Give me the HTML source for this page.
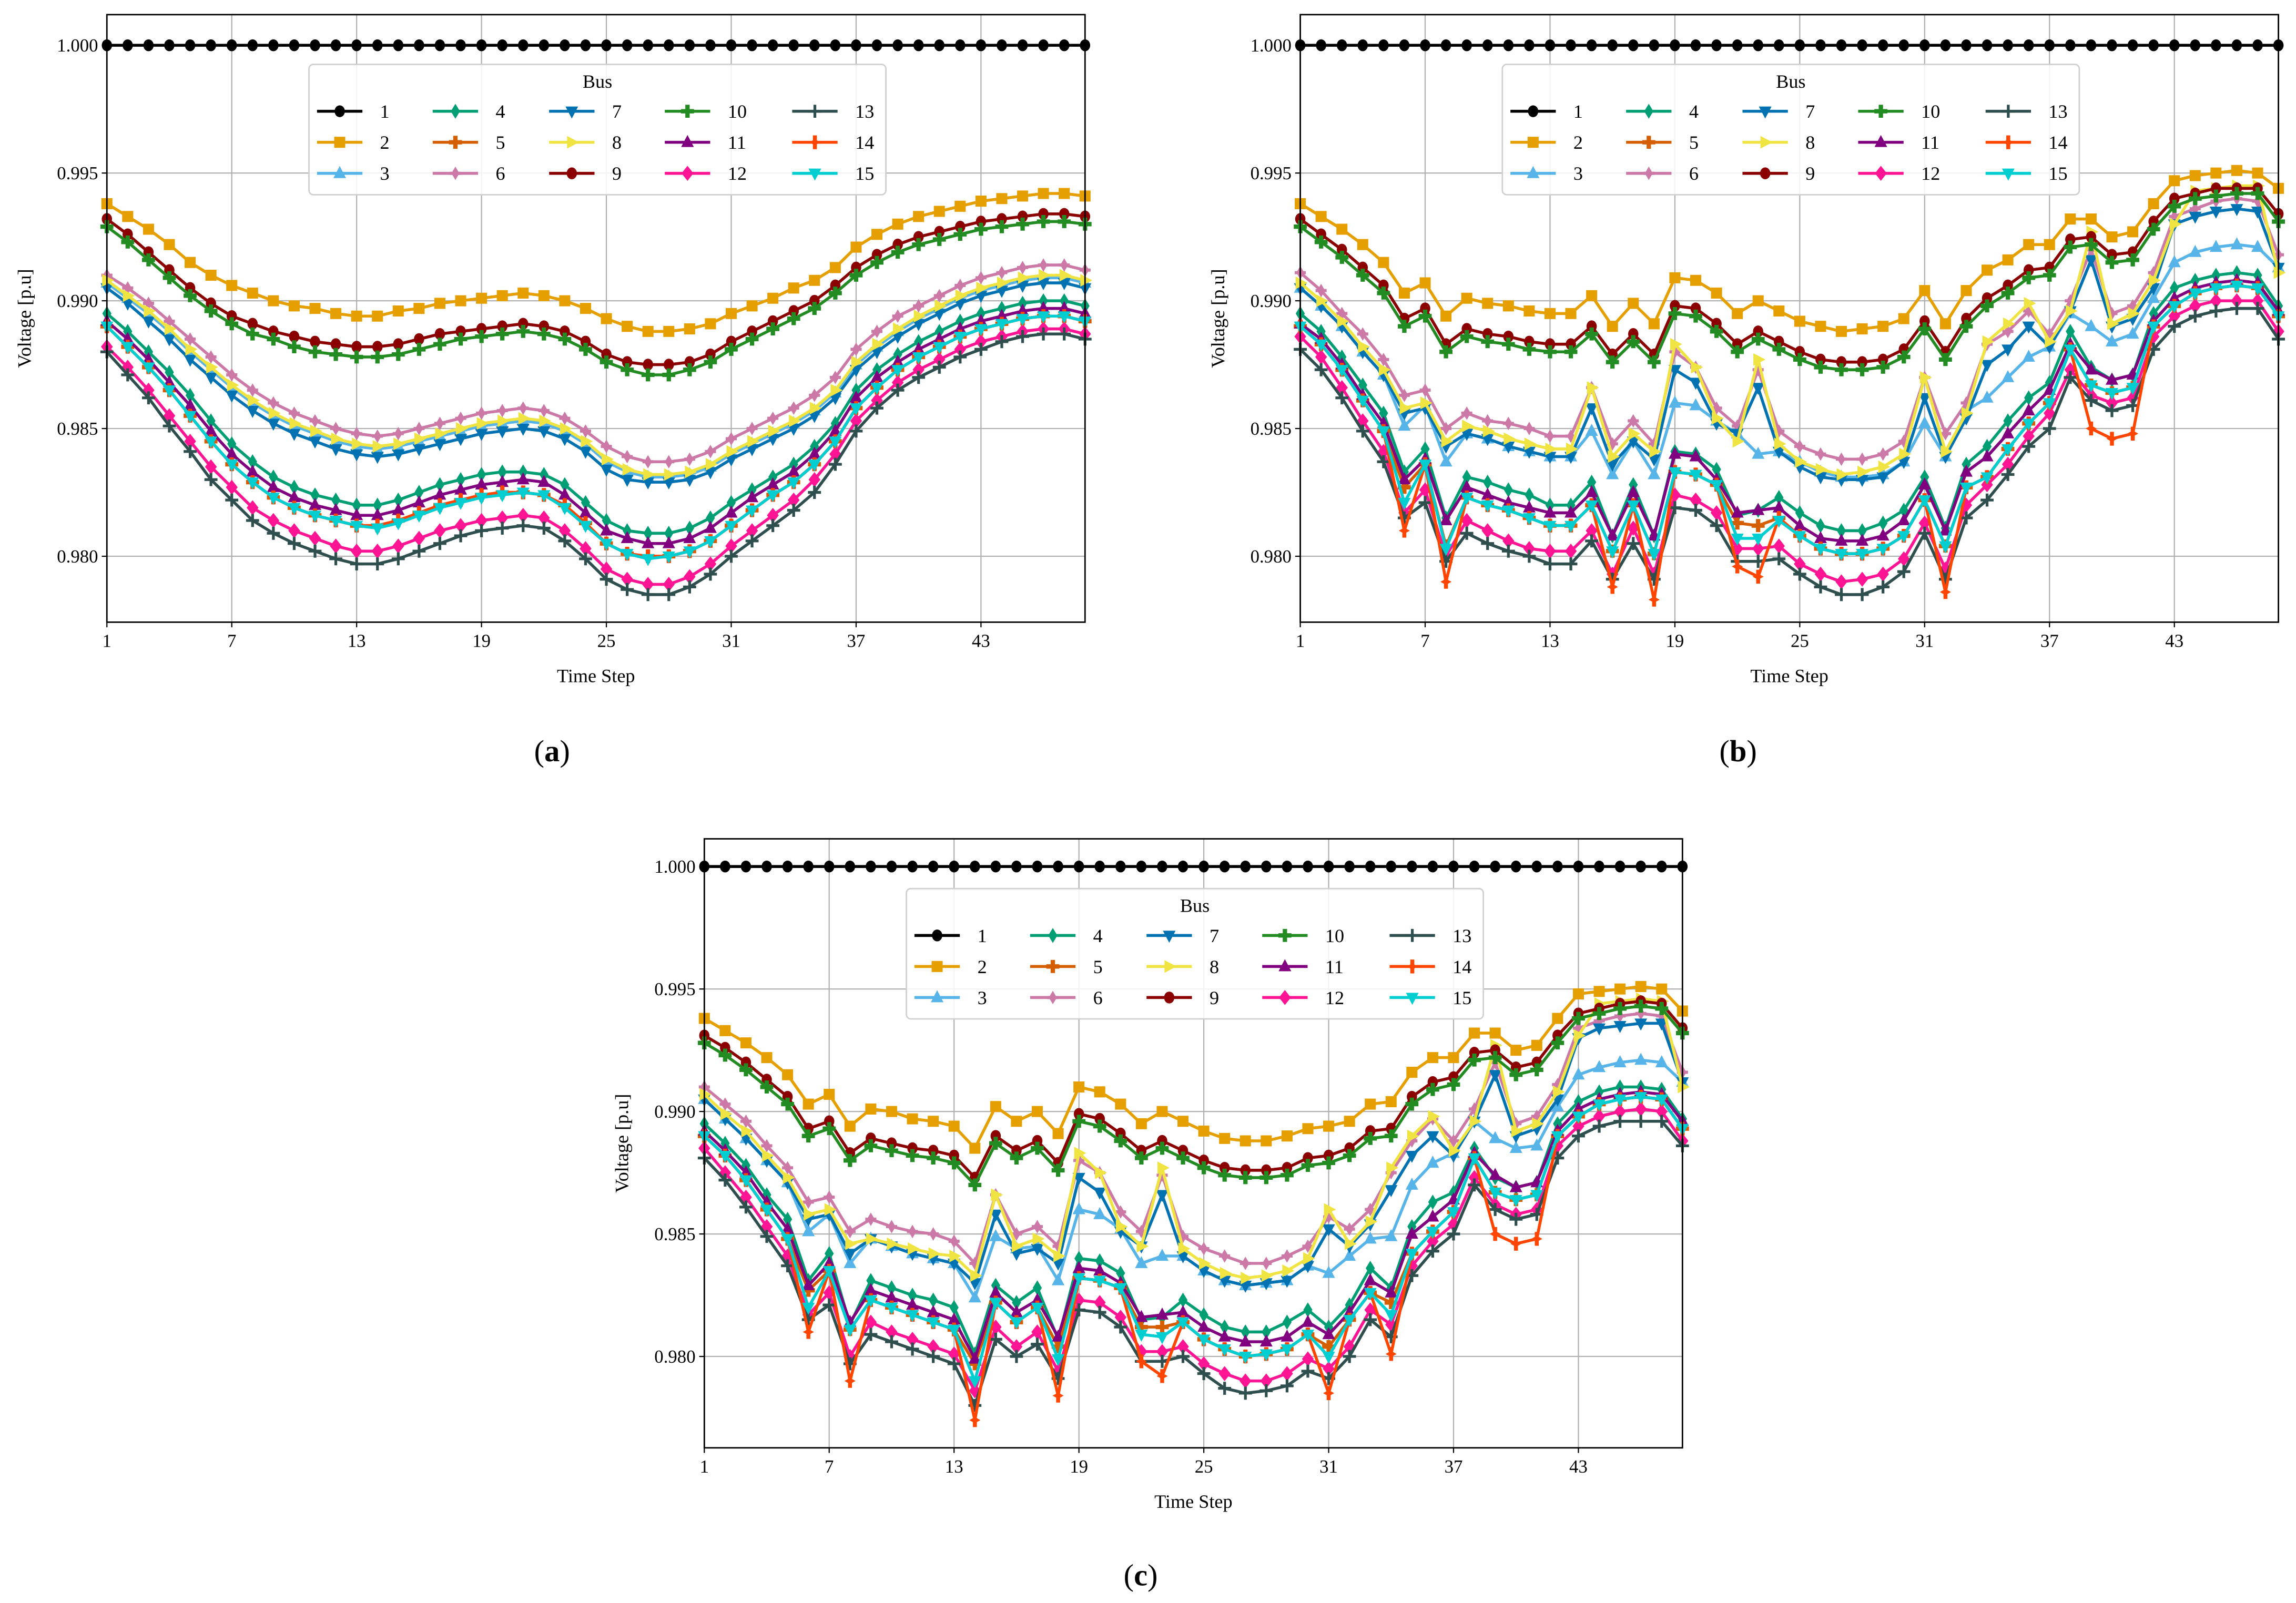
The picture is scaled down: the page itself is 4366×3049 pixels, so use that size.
<!DOCTYPE html>
<html><head><meta charset="utf-8"><style>
html,body{margin:0;padding:0;background:#fff;}
svg{display:block;}
text{font-family:"Liberation Serif",serif;fill:#000;}
</style></head><body>
<svg id="root" xmlns="http://www.w3.org/2000/svg" width="4366" height="3049" viewBox="0 0 1568 1095" preserveAspectRatio="none"></svg>
<script>
// Values: voltage deficit below 1.0 p.u. in units of 1e-4 (v = 1 - d/10000), time steps 1..48
const timeSteps=[1,2,3,4,5,6,7,8,9,10,11,12,13,14,15,16,17,18,19,20,21,22,23,24,25,26,27,28,29,30,31,32,33,34,35,36,37,38,39,40,41,42,43,44,45,46,47,48];
const busLabels=["1","2","3","4","5","6","7","8","9","10","11","12","13","14","15"];
const xTickLabels=[1,7,13,19,25,31,37,43];
const yTickLabels=[0.980,0.985,0.990,0.995,1.000];
const zeroBus=[0,0,0,0,0,0,0,0,0,0,0,0,0,0,0,0,0,0,0,0,0,0,0,0,0,0,0,0,0,0,0,0,0,0,0,0,0,0,0,0,0,0,0,0,0,0,0,0];
// panel (a)
const a2=[62,67,72,78,85,90,94,97,100,102,103,105,106,106,104,103,101,100,99,98,97,98,100,103,107,110,112,112,111,109,105,102,99,95,92,87,79,74,70,67,65,63,61,60,59,58,58,59];
const a3=[93,99,105,112,120,127,134,140,145,149,152,155,157,158,157,155,153,151,149,148,147,148,151,156,163,167,169,169,168,165,160,156,152,148,143,136,125,118,112,107,103,99,96,94,92,91,91,93];
const a4=[105,112,120,128,137,147,156,163,169,173,176,178,180,180,178,175,172,170,168,167,167,168,172,179,186,190,191,191,189,185,179,174,169,164,157,148,135,127,121,116,112,108,105,103,101,100,100,102];
const a5=[110,118,126,135,145,155,164,171,177,181,184,186,188,188,186,183,180,178,176,175,175,176,180,187,195,199,200,200,198,194,188,182,176,171,164,155,142,134,127,122,118,114,111,109,107,106,106,108];
const a6=[90,95,101,108,115,122,129,135,140,144,147,150,152,153,152,150,148,146,144,143,142,143,146,151,157,161,163,163,162,159,154,150,146,142,137,130,119,112,106,102,98,94,91,89,87,86,86,88];
const a7=[95,101,108,115,123,130,137,143,148,152,155,158,160,161,160,158,156,154,152,151,150,151,154,159,166,170,171,171,170,167,162,158,154,150,145,138,127,120,114,109,105,101,98,96,94,93,93,95];
const a8=[92,98,104,111,119,126,133,139,144,148,151,154,156,157,156,154,152,150,148,147,146,147,150,155,162,166,168,168,167,164,159,155,151,147,142,135,124,117,111,106,102,98,95,93,91,90,90,92];
const a9=[68,74,81,88,95,101,106,109,112,114,116,117,118,118,117,115,113,112,111,110,109,110,112,116,121,124,125,125,124,121,116,112,108,104,100,94,87,82,78,75,73,71,69,68,67,66,66,67];
const a10=[71,77,84,91,98,104,109,113,115,118,120,121,122,122,121,119,117,115,114,113,112,113,115,119,124,127,129,129,127,124,119,115,111,107,103,97,90,85,81,78,76,74,72,71,70,69,69,70];
const a11=[108,115,123,132,141,151,160,167,173,177,180,182,184,184,182,179,176,174,172,171,170,171,176,183,190,193,195,195,193,189,183,177,172,167,160,151,138,130,124,119,115,111,108,106,104,103,103,105];
const a12=[118,126,135,145,155,165,173,181,186,190,193,196,198,198,196,193,190,188,186,185,184,185,190,197,205,209,211,211,208,203,196,190,184,178,170,160,147,139,132,127,123,119,116,114,112,111,111,113];
const a13=[120,129,138,149,159,170,178,186,191,195,198,201,203,203,201,198,195,192,190,189,188,189,194,201,209,213,215,215,212,207,200,194,188,182,175,164,151,142,135,130,126,122,119,116,114,113,113,115];
const a14=[110,118,126,135,145,155,164,171,177,181,184,186,188,188,186,183,180,178,176,175,175,176,180,187,195,199,200,200,198,194,188,182,176,171,164,155,142,134,127,122,118,114,111,109,107,106,106,108];
const a15=[110,118,126,135,145,155,164,171,177,181,184,186,188,189,187,184,181,179,177,176,175,176,181,188,195,199,201,200,198,194,188,182,176,171,164,155,142,134,127,122,118,114,111,109,107,106,106,108];
// panel (b)
const b2=[62,67,72,78,85,97,93,106,99,101,102,104,105,105,98,110,101,109,91,92,97,105,100,104,108,110,112,111,110,107,96,109,96,88,84,78,78,68,68,75,73,62,53,51,50,49,50,56];
const b3=[95,102,110,120,129,149,141,163,152,154,157,159,161,161,151,168,155,168,140,141,147,152,160,159,163,167,169,169,168,163,148,161,143,138,130,122,118,105,110,116,113,99,85,81,79,78,79,87];
const b4=[105,112,122,133,144,167,158,185,169,171,174,176,180,180,171,192,172,192,159,160,166,184,182,177,183,188,190,190,187,182,169,189,164,157,147,138,132,112,126,131,129,105,95,92,90,89,90,102];
const b5=[110,117,127,139,151,173,164,196,177,180,182,185,188,188,180,198,180,199,167,168,172,187,188,185,192,197,199,199,197,192,178,196,173,169,158,148,140,119,133,136,134,110,102,97,95,94,95,106];
const b6=[89,96,105,113,123,137,135,150,144,147,148,150,153,153,134,156,147,156,120,126,142,149,127,151,157,160,162,162,160,155,130,152,140,117,112,104,113,100,80,105,102,89,67,64,61,60,61,82];
const b7=[95,102,110,120,129,144,142,157,152,154,157,159,161,161,142,164,155,162,127,132,148,152,134,159,165,169,170,170,169,163,138,161,146,125,119,110,118,104,84,110,107,95,70,67,65,64,65,87];
const b8=[93,100,108,118,127,142,140,155,149,151,154,156,158,158,134,161,152,159,117,126,146,155,123,156,163,166,168,167,165,160,130,159,144,116,109,101,116,104,73,109,105,92,70,57,56,55,55,89];
const b9=[68,74,80,87,94,107,103,117,111,113,114,116,117,117,110,121,113,121,102,103,109,117,112,116,120,123,124,124,123,119,108,120,107,99,94,88,87,76,75,82,81,69,60,58,56,56,56,66];
const b10=[71,77,83,90,97,110,106,120,114,116,117,119,120,120,113,124,116,124,105,106,112,120,115,119,123,126,127,127,126,122,111,123,110,102,97,91,90,79,78,85,84,72,63,60,59,58,58,69];
const b11=[109,115,125,137,148,170,162,186,173,176,179,181,183,183,175,192,175,192,160,161,170,183,182,181,188,193,194,194,192,186,172,190,167,161,152,143,135,117,127,131,129,108,99,95,93,92,93,104];
const b12=[114,122,134,147,159,183,174,200,186,190,194,197,198,198,190,207,189,207,176,178,183,197,197,196,203,207,210,209,207,201,187,205,180,172,164,153,144,127,137,140,138,114,106,102,100,100,100,112];
const b13=[119,127,138,151,163,185,179,202,191,195,198,200,203,203,194,209,195,209,181,182,188,202,202,201,207,212,215,215,212,206,191,209,185,178,168,157,150,130,139,143,141,119,110,106,104,103,103,115];
const b14=[110,117,127,139,151,190,164,210,177,180,182,185,188,188,180,212,180,217,167,168,172,204,208,185,192,197,199,199,197,192,178,214,173,169,158,148,140,119,150,154,152,110,102,97,95,94,95,106];
const b15=[110,117,127,139,151,179,164,197,177,180,182,185,188,188,180,198,180,199,167,168,172,193,193,186,192,197,199,199,197,192,178,196,173,169,158,148,140,119,133,136,134,110,102,97,95,94,95,106];
// panel (c)
const c2=[62,67,72,78,85,97,93,106,99,100,103,104,106,115,98,104,100,109,90,92,97,105,100,104,108,111,112,112,110,107,106,104,97,96,84,78,78,68,68,75,73,62,52,51,50,49,50,59];
const c3=[95,103,111,120,129,149,142,162,152,155,158,160,162,176,151,156,155,169,140,142,148,162,159,159,165,169,171,170,169,163,166,159,152,151,130,121,117,104,111,115,114,98,85,82,80,79,80,88];
const c4=[105,113,122,134,144,169,158,187,169,172,175,177,180,199,171,178,172,193,160,161,166,185,184,177,183,188,190,190,186,181,188,179,164,172,147,137,133,115,127,131,129,105,96,92,90,90,91,103];
const c5=[110,118,128,140,152,173,165,189,177,180,183,186,189,203,178,186,180,196,168,169,172,188,188,186,193,197,200,199,197,191,196,185,174,178,158,149,141,119,133,136,134,110,102,97,95,94,95,107];
const c6=[90,97,104,114,123,137,135,149,144,147,149,150,153,162,134,150,147,155,120,125,141,149,126,151,156,159,162,162,159,155,143,148,140,125,112,103,112,99,80,105,102,89,66,63,61,60,61,84];
const c7=[95,103,111,120,129,144,142,158,152,155,158,160,162,170,142,158,156,162,127,133,149,155,134,159,165,169,171,170,169,163,148,155,146,132,118,110,118,104,85,110,107,95,70,66,65,64,64,88];
const c8=[93,101,108,118,127,142,140,154,152,154,156,158,159,167,134,155,152,159,117,125,147,155,123,156,162,166,168,167,165,160,140,154,145,123,110,102,116,104,73,108,105,92,69,56,55,54,55,90];
const c9=[69,74,80,87,94,107,104,117,111,113,115,116,118,127,110,116,112,121,101,103,109,116,112,116,120,123,124,124,123,119,118,115,108,107,94,88,86,76,75,82,80,69,60,58,56,55,56,66];
const c10=[72,77,83,90,97,110,107,120,114,116,118,119,121,130,113,119,115,124,104,106,112,119,115,119,123,126,127,127,126,122,121,118,111,110,97,91,89,79,78,85,83,72,62,60,58,57,58,68];
const c11=[108,116,125,137,148,171,162,186,173,176,179,182,185,201,174,182,177,192,164,165,170,184,183,182,188,192,194,194,192,186,191,182,169,174,150,143,136,117,126,131,129,108,99,95,93,92,93,104];
const c12=[115,125,135,147,159,183,174,200,186,190,193,196,199,214,188,196,190,206,177,178,184,198,198,196,203,207,210,210,207,201,205,196,181,187,163,153,146,127,138,142,140,114,106,102,100,99,100,112];
const c13=[119,128,139,151,163,185,179,203,191,194,197,200,203,220,193,200,195,209,181,182,188,202,202,200,207,213,215,214,212,206,209,200,185,192,167,157,150,130,140,144,142,119,110,106,104,104,104,114];
const c14=[110,118,128,140,152,190,165,210,177,180,183,186,189,226,178,186,180,216,168,169,172,202,208,186,193,197,200,199,197,191,215,185,174,199,158,149,141,119,150,154,152,110,102,97,95,94,95,107];
const c15=[110,118,128,140,152,180,165,189,177,180,183,186,189,210,178,186,180,201,168,169,172,191,192,186,193,197,200,199,197,191,200,185,174,183,158,149,141,119,133,136,134,110,102,97,95,94,95,107];

const panelAData=[zeroBus,a2,a3,a4,a5,a6,a7,a8,a9,a10,a11,a12,a13,a14,a15];
const panelBData=[zeroBus,b2,b3,b4,b5,b6,b7,b8,b9,b10,b11,b12,b13,b14,b15];
const panelCData=[zeroBus,c2,c3,c4,c5,c6,c7,c8,c9,c10,c11,c12,c13,c14,c15];

const colors=["#000000","#E69F00","#56B4E9","#009E73","#D55E00","#CC79A7","#0072B2","#F0E442","#8B0000","#228B22","#800080","#FF1493","#2F4F4F","#FF4500","#00CED1"];
const markers=["o","s","^","d","P","d6","v",">","o","P","^","D","+","x","v"];

const NS="http://www.w3.org/2000/svg";
const root=document.getElementById('root');
function mk(tag,attrs,parent){const e=document.createElementNS(NS,tag);for(const k in attrs)e.setAttribute(k,attrs[k]);parent.appendChild(e);return e;}

function markerPath(t){
  const r=3.2;
  switch(t){
    case "s": return `M-2.8,-2.8h5.6v5.6h-5.6z`;
    case "^": return `M0,${-r-0.5}L${r},${r-0.8}L${-r},${r-0.8}z`;
    case "v": return `M0,${r+0.5}L${r},${-r+0.8}L${-r},${-r+0.8}z`;
    case ">": return `M${r+0.5},0L${-r+0.8},${-r}L${-r+0.8},${r}z`;
    case "d": return `M0,-3.8L2.3,0L0,3.8L-2.3,0z`;
    case "d6": return `M0,-3.4L2,0L0,3.4L-2,0z M-2.8,-0.8h5.6v1.6h-5.6z`;
    case "D": return `M0,-3.8L3,0L0,3.8L-3,0z`;
    case "P": return `M-1.1,-3.3h2.2v2.2h2.2v2.2h-2.2v2.2h-2.2v-2.2h-2.2v-2.2h2.2z`;
    case "+": return `M-0.7,-3.3h1.4v2.6h2.6v1.4h-2.6v2.6h-1.4v-2.6h-2.6v-1.4h2.6z`;
    case "x": return `M-1,-3.5h2l0,2.5l1.8,1l-1.8,1l0,2.5h-2l0,-2.5l-1.8,-1l1.8,-1z`;
  }
  return "";
}
const MS=1.35;
function drawMarker(t,x,y,c,g){
  const tr=`translate(${x.toFixed(2)},${y.toFixed(2)}) scale(${MS})`;
  if(t==="o"){return mk('ellipse',{cx:0,cy:0,rx:2.6,ry:3.0,fill:c,transform:tr},g);}
  return mk('path',{d:markerPath(t),fill:c,transform:tr},g);
}

const panels=[
 {id:'a',x0:73,x1:741,yT:10,yB:425,vMin:0.97742,vMax:1.00120,data:panelAData,lx:377,ly:520},
 {id:'b',x0:888,x1:1556,yT:10,yB:425,vMin:0.97742,vMax:1.00120,data:panelBData,lx:1187,ly:520},
 {id:'c',x0:481,x1:1149,yT:573,yB:989,vMin:0.97627,vMax:1.00113,data:panelCData,lx:779,ly:1083}
];

panels.forEach(P=>{
  const g=mk('g',{},root);
  
  
  const xs=t=>P.x0+(t-1)/(48-1)*(P.x1-P.x0);
  const ys=v=>P.yB-(v-P.vMin)/(P.vMax-P.vMin)*(P.yB-P.yT);
  const grid=mk('g',{stroke:'#b0b0b0','stroke-width':0.8},g);
  
  
  xTickLabels.forEach(t=>{
    const l=mk('line',{x1:xs(t),x2:xs(t),y1:P.yT,y2:P.yB},grid);
    
    
  });
  yTickLabels.forEach(v=>{
    const l=mk('line',{x1:P.x0,x2:P.x1,y1:ys(v),y2:ys(v)},grid);
    
    
  });
  const sg=mk('g',{},g);
  
  
  P.data.forEach((arr,i)=>{
    const s=mk('g',{},sg);
    
    
    const pts=arr.map((d,k)=>[xs(timeSteps[k]),ys(1-d/10000)]);
    const line=mk('polyline',{points:pts.map(p=>p[0].toFixed(2)+','+p[1].toFixed(2)).join(' '),fill:'none',stroke:colors[i],'stroke-width':2.0,'stroke-linejoin':'round'},s);
    
    
    pts.forEach(p=>{
      const m=drawMarker(markers[i],p[0],p[1],colors[i],s);
      
      
    });
  });
  const fr=mk('rect',{x:P.x0,y:P.yT,width:P.x1-P.x0,height:P.yB-P.yT,fill:'none',stroke:'#000','stroke-width':1},g);
  
  
  xTickLabels.forEach(t=>{
    const tk=mk('line',{x1:xs(t),x2:xs(t),y1:P.yB,y2:P.yB+3.5,stroke:'#000','stroke-width':0.8},g);
    
    
    const tx=mk('text',{x:xs(t),y:P.yB+17,'font-size':12.5,'text-anchor':'middle'},g);
    tx.textContent=String(t);
    
    
  });
  yTickLabels.forEach(v=>{
    const tk=mk('line',{x1:P.x0-3.5,x2:P.x0,y1:ys(v),y2:ys(v),stroke:'#000','stroke-width':0.8},g);
    
    
    const tx=mk('text',{x:P.x0-6,y:ys(v)+4.3,'font-size':12.5,'text-anchor':'end'},g);
    tx.textContent=v.toFixed(3);
    
    
  });
  const xl=mk('text',{x:(P.x0+P.x1)/2,y:P.yB+41,'font-size':13,'text-anchor':'middle'},g);
  xl.textContent='Time Step';
  
  
  const cy=(P.yT+P.yB)/2;
  const yl=mk('text',{x:P.x0-52,y:cy,'font-size':13,'text-anchor':'middle',transform:`rotate(-90 ${P.x0-52} ${cy})`},g);
  yl.textContent='Voltage [p.u]';
  
  
  const lgx=P.x0+138, lgy=P.yT+34;
  const lg=mk('g',{},g);
  
  
  const lb=mk('rect',{x:lgx,y:lgy,width:394,height:89,rx:3,fill:'#fff','fill-opacity':0.85,stroke:'#d0d0d0','stroke-width':1},lg);
  
  
  const lt=mk('text',{x:lgx+197,y:lgy+16,'font-size':13,'text-anchor':'middle'},lg);
  lt.textContent='Bus';
  
  
  const colX=[5.5,84.5,164,243,330];
  busLabels.forEach((b,i)=>{
    const col=Math.floor(i/3), row=i%3;
    const ex=lgx+colX[col], ey=lgy+32+row*21.2;
    const e=mk('g',{},lg);
    
    
    mk('line',{x1:ex,x2:ex+31,y1:ey,y2:ey,stroke:colors[i],'stroke-width':2.0},e);
    drawMarker(markers[i],ex+15.5,ey,colors[i],e);
    const t=mk('text',{x:ex+43,y:ey+4.5,'font-size':13},e);
    t.textContent=b;
  });
  const cap=mk('text',{x:P.lx,y:P.ly,'font-size':21,'text-anchor':'middle'},g);
  
  
  const t1=document.createElementNS(NS,'tspan');t1.textContent='(';cap.appendChild(t1);
  const t2=document.createElementNS(NS,'tspan');t2.setAttribute('font-weight','bold');t2.textContent=P.id;cap.appendChild(t2);
  const t3=document.createElementNS(NS,'tspan');t3.textContent=')';cap.appendChild(t3);
});
</script>
</body></html>
